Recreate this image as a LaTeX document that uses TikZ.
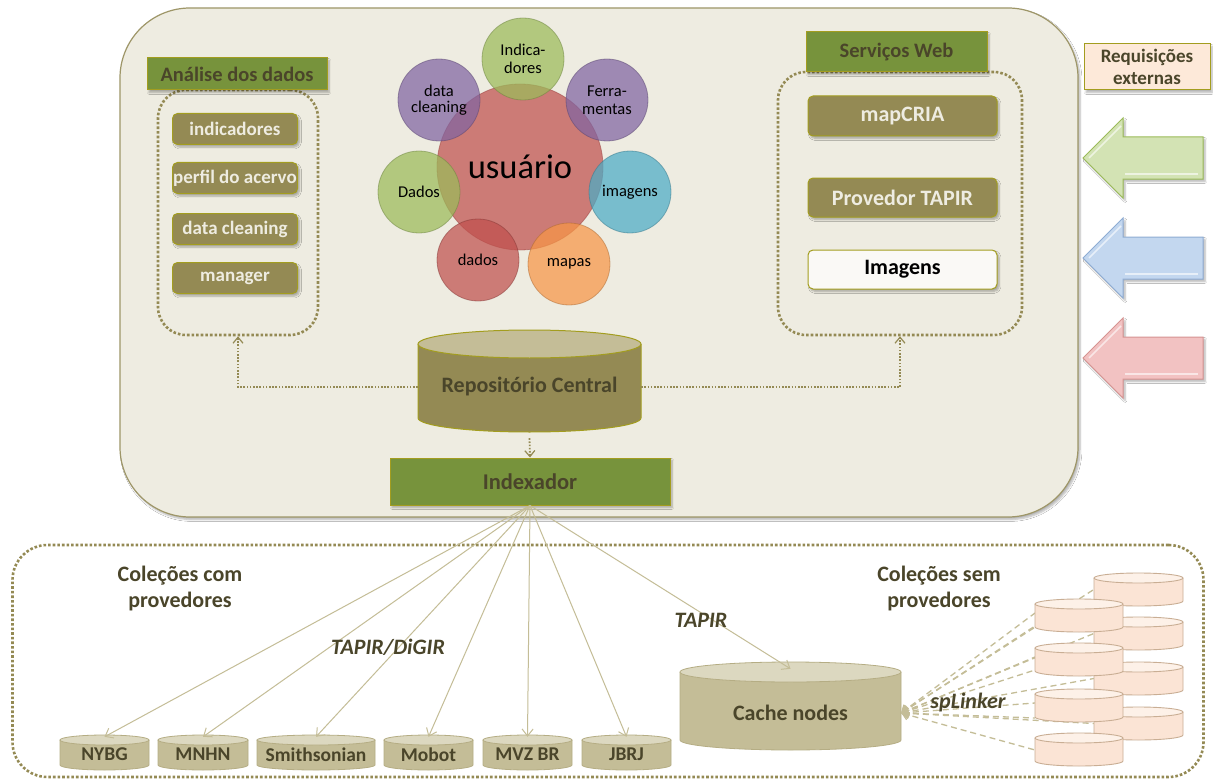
\documentclass[tikz,border=0pt]{standalone}
\usepackage{fontspec}
\setmainfont{Carlito}
\usetikzlibrary{arrows.meta,shadows.blur}

\definecolor{bgtwo}{HTML}{EEECE1}
\definecolor{olive}{HTML}{948A54}
\definecolor{oliveline}{HTML}{A39D1F}
\definecolor{bigline}{HTML}{9E9668}
\definecolor{darktext}{HTML}{4A452A}
\definecolor{hdrgreen}{HTML}{77933C}
\definecolor{tanc}{HTML}{C4BD97}
\definecolor{tanlight}{HTML}{DCD8C0}
\definecolor{tanline}{HTML}{B5AD84}
\definecolor{peach}{HTML}{FBE4D5}
\definecolor{peachtop}{HTML}{FDF1E8}
\definecolor{peachline}{HTML}{C9AE94}
\definecolor{reqfill}{HTML}{FDE9D9}
\definecolor{cred}{HTML}{C0504D}
\definecolor{cgreen}{HTML}{9BBB59}
\definecolor{cpurple}{HTML}{8064A2}
\definecolor{cblue}{HTML}{4BACC6}
\definecolor{corange}{HTML}{F79646}
\definecolor{agreen}{HTML}{D3E3B4}
\definecolor{agreenl}{HTML}{9BBB59}
\definecolor{ablue}{HTML}{C3D7EF}
\definecolor{ablueline}{HTML}{8EACD3}
\definecolor{apink}{HTML}{F2C2C2}
\definecolor{apinkline}{HTML}{D69391}

\newcommand{\cylin}[8]{%
  \fill[#7 body] (#2-#5,#3) -- (#2-#5,#4) arc[start angle=180,end angle=0,x radius=#5,y radius=#6] -- (#2+#5,#3) -- cycle;
  \draw[#7 line] (#2-#5,#3) -- (#2-#5,#4) arc[start angle=180,end angle=0,x radius=#5,y radius=#6] -- (#2+#5,#3);
  \filldraw[#7 top] (#2,#3) ellipse[x radius=#5,y radius=#6];
  \node[inner sep=0pt,minimum width={2*#5},minimum height={#4-#3+2*#6},#7 text] (#1) at (#2,{(#3+#4)/2}) {#8};
}

\tikzset{
  shad/.style={blur shadow={shadow blur steps=6,shadow xshift=2pt,shadow yshift=-2.5pt,shadow opacity=30}},
  hdr/.style={draw=oliveline,line width=1pt,fill=hdrgreen,text=darktext,font=\fontsize{20.5}{22}\selectfont\bfseries,inner sep=0pt,shad},
  obox/.style={draw=oliveline,line width=1pt,fill=olive,text=bgtwo,rounded corners=5pt,inner sep=0pt,shad},
  dotbox/.style={draw=olive,line width=2.6pt,dash pattern=on 2.6pt off 2pt,rounded corners=28pt,inner sep=0pt},
  circ/.style={circle,inner sep=0pt,minimum size=82pt,fill opacity=0.72,text opacity=1,draw opacity=0.5,line width=0.8pt,font=\fontsize{16.5}{18}\selectfont,align=center},
  dotconn/.style={draw=olive,line width=1.8pt,dash pattern=on 1.6pt off 1.6pt},
  dottip/.style={-{Straight Barb[length=6pt,width=10pt,line width=1.2pt]}},
  fan/.style={draw=tanc,line width=1pt,-{Straight Barb[length=7pt,width=11pt]}},
  spl/.style={draw=tanc,line width=1.3pt,dash pattern=on 6pt off 4pt,{Straight Barb[length=6pt,width=10pt]}-},
  lbl/.style={text=darktext,font=\fontsize{22}{26}\selectfont\bfseries,align=center,inner sep=0pt},
  itl/.style={text=darktext,font=\fontsize{22}{24}\selectfont\bfseries\itshape,inner sep=1pt},
  boxfont/.style={font=\fontsize{19}{21}\selectfont\bfseries},
  webfont/.style={font=\fontsize{22}{24}\selectfont\bfseries},
  repo body/.style={fill=olive},
  repo line/.style={draw=oliveline,line width=1pt},
  repo top/.style={fill=tanc,draw=oliveline,line width=1pt},
  repo text/.style={text=darktext,font=\fontsize{22}{24}\selectfont\bfseries,yshift=-6pt},
  col body/.style={fill=tanc},
  col line/.style={draw=tanline,line width=0.8pt},
  col top/.style={fill=tanlight,draw=tanline,line width=0.8pt},
  col text/.style={text=darktext,font=\fontsize{19.5}{21}\selectfont\bfseries,yshift=-2pt},
  cache body/.style={fill=tanc},
  cache line/.style={draw=tanline,line width=0.8pt},
  cache top/.style={fill=tanlight,draw=tanline,line width=0.8pt},
  cache text/.style={text=darktext,font=\fontsize{22}{24}\selectfont\bfseries,yshift=-7pt},
  pc body/.style={fill=peach},
  pc line/.style={draw=peachline,line width=0.9pt},
  pc top/.style={fill=peachtop,draw=peachline,line width=0.9pt},
  pc text/.style={},
}

\begin{document}
\begin{tikzpicture}[x=1pt,y=-1pt]
\useasboundingbox (0,0) rectangle (1213,781);
\fill[white] (0,0) rectangle (1213,781);

% main panel
\node[draw=bigline,line width=1.2pt,fill=bgtwo,rounded corners=70pt,minimum width=958pt,minimum height=509pt,inner sep=0pt,shad] (panel) at (599,262.5) {};

% Analise dos dados
\node[dotbox,minimum width=160pt,minimum height=245pt] (anabox) at (238,212.5) {};
\node[hdr,minimum width=180pt,minimum height=32pt] (anahdr) at (237,74) {Análise dos dados};
\node[obox,boxfont,minimum width=125pt,minimum height=31pt] (b1) at (235,129) {indicadores};
\node[obox,boxfont,minimum width=125pt,minimum height=31pt] (b2) at (235,178) {perfil do acervo};
\node[obox,boxfont,minimum width=125pt,minimum height=31pt] (b3) at (235,229) {data cleaning};
\node[obox,boxfont,minimum width=125pt,minimum height=31pt] (b4) at (235,278) {manager};

% Servicos Web
\node[dotbox,minimum width=244pt,minimum height=263pt] (webbox) at (900,203.5) {};
\node[hdr,minimum width=181pt,minimum height=40pt] (webhdr) at (896.5,52) {Serviços Web};
\node[obox,webfont,minimum width=189pt,minimum height=40pt] (w1) at (902.5,116) {mapCRIA};
\node[obox,webfont,minimum width=189pt,minimum height=39pt] (w2) at (902.5,197.5) {Provedor TAPIR};
\node[obox,webfont,fill=white!70!bgtwo,text=black,minimum width=189pt,minimum height=39pt] (w3) at (902.5,269.5) {Imagens};

% usuario circles
\node[circ,minimum size=166pt,fill=cred,draw=cred!80!black,font=\fontsize{34.5}{36}\selectfont] (usr) at (520,167) {usuário};
\node[circ,fill=cgreen,draw=cgreen!70!black] (c1) at (523,59) {Indica-\\dores};
\node[circ,fill=cpurple,draw=cpurple!70!black] (c2) at (607,100) {Ferra-\\mentas};
\node[circ,fill=cblue,draw=cblue!70!black] (c3) at (630,192) {imagens};
\node[circ,fill=corange,draw=corange!70!black] (c4) at (569,264) {mapas};
\node[circ,fill=cred,draw=cred!70!black] (c5) at (478,260) {dados};
\node[circ,fill=cgreen,draw=cgreen!70!black] (c6) at (419,192) {Dados};
\node[circ,fill=cpurple,draw=cpurple!70!black] (c7) at (439,100) {data\\[-2pt]cleaning};

% Repositorio central and Indexador
\cylin{repo}{529.5}{344}{418}{111.5}{14}{repo}{Repositório Central}
\node[hdr,minimum width=280pt,minimum height=47pt,font=\fontsize{22.5}{24}\selectfont\bfseries] (idx) at (530,481.5) {Indexador};
\draw[dotconn,dottip] (repo.west) -| (anabox.south);
\draw[dotconn,dottip] (repo.east) -| (webbox.south);
\draw[dotconn,dottip] (repo.south) -- (idx.north);

% Requisicoes externas
\node[draw=oliveline,line width=1pt,fill=reqfill,minimum width=126pt,minimum height=46pt,inner sep=0pt,text=darktext,font=\fontsize{19}{22}\selectfont\bfseries,align=center,shad] (req) at (1147,67) {Requisições\\externas};
\foreach \yc/\fc/\lc in {158/agreen/agreenl,258/ablue/ablueline,358/apink/apinkline}{
  \filldraw[fill=\fc,draw=\lc,line width=1pt,shad] (1083,\yc) -- (1123,\yc-40) -- (1123,\yc-21) -- (1203,\yc-21) -- (1203,\yc+21) -- (1123,\yc+21) -- (1123,\yc+40) -- cycle;
  \draw[white,line width=1.5pt,opacity=0.6] (1089,\yc) -- (1121,\yc-32);
  \draw[white,line width=1.5pt,opacity=0.6] (1125,\yc+16) -- (1198,\yc+16);
}

% lower region
\node[dotbox,rounded corners=35pt,minimum width=1191pt,minimum height=232pt] (lower) at (608,661) {};
\node[lbl] (lcom) at (180,589) {Coleções com\\provedores};
\node[lbl] (lsem) at (939,589) {Coleções sem\\provedores};

\cylin{nybg}{104.5}{740}{765}{44.5}{5}{col}{NYBG}
\cylin{mnhn}{203}{740}{765}{45}{5}{col}{MNHN}
\cylin{smith}{316}{740}{765}{59}{5}{col}{Smithsonian}
\cylin{mobot}{428.5}{740}{765}{44.5}{5}{col}{Mobot}
\cylin{mvz}{527.5}{740}{765}{44.5}{5}{col}{MVZ BR}
\cylin{jbrj}{626.5}{740}{765}{44.5}{5}{col}{JBRJ}
\cylin{cache}{790.5}{672}{740}{110.5}{10}{cache}{Cache nodes}

\foreach \t in {nybg,mnhn,smith,mobot,mvz,jbrj,cache}{
  \draw[fan] (idx.south) -- (\t.north);
}
\node[itl] (ltd) at (388,647) {TAPIR/DiGIR};
\node[itl] (ltp) at (701,620) {TAPIR};

% collections without providers
\cylin{r1}{1138.5}{578}{601}{44.5}{5}{pc}{}
\cylin{r2}{1138.5}{622}{645}{44.5}{5}{pc}{}
\cylin{r3}{1138.5}{667}{690}{44.5}{5}{pc}{}
\cylin{r4}{1138.5}{712}{735}{44.5}{5}{pc}{}
\foreach \t in {r1,r2,r3,r4}{
  \draw[spl] (cache.east) -- (\t.west);
}
\draw[spl] (cache.east) -- (1035,613);
\draw[spl] (cache.east) -- (1035,626);
\draw[spl] (cache.east) -- (1035,657);
\draw[spl] (cache.east) -- (1035,670);
\draw[spl] (cache.east) -- (1035,703);
\draw[spl] (cache.east) -- (1035,718);
\draw[spl] (cache.east) -- (1035,750);
\cylin{l1}{1079}{604}{627}{44}{5}{pc}{}
\cylin{l2}{1079}{648}{671}{44}{5}{pc}{}
\cylin{l3}{1079}{694}{717}{44}{5}{pc}{}
\cylin{l4}{1079}{738}{761}{44}{5}{pc}{}
\node[itl] (lsp) at (968,703) {spLinker};
\end{tikzpicture}
\end{document}
